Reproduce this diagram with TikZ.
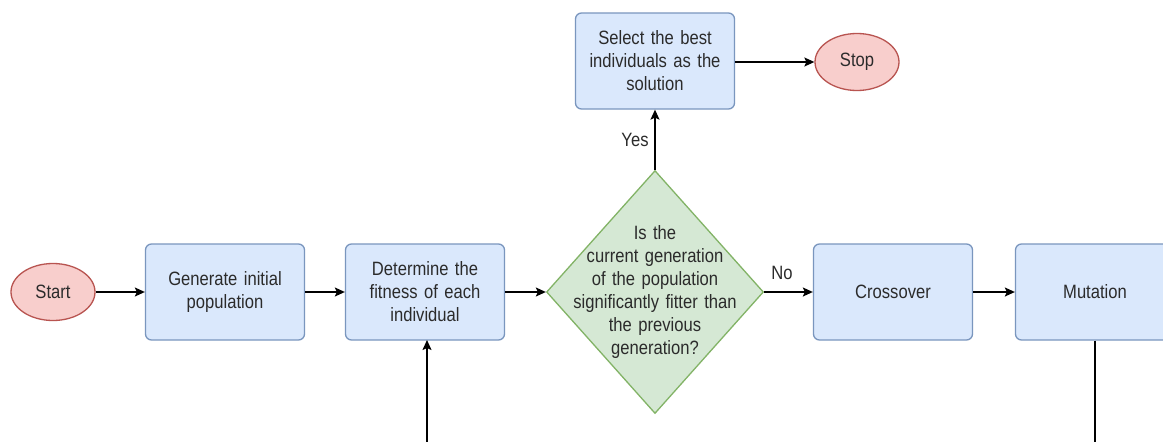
\documentclass[tikz,border=0pt]{standalone}
\usepackage{fontspec}
\setmainfont{Liberation Sans}[FakeStretch=0.86]
\usetikzlibrary{shapes.geometric,arrows.meta}
\definecolor{boxfill}{HTML}{DAE8FC}
\definecolor{boxdraw}{HTML}{7A96BE}
\definecolor{ovfill}{HTML}{F8CECC}
\definecolor{ovdraw}{HTML}{B85450}
\definecolor{dfill}{HTML}{D5E8D4}
\definecolor{ddraw}{HTML}{82B366}
\definecolor{txtc}{HTML}{2B2B2B}
\tikzset{
  procbox/.style={draw=boxdraw, fill=boxfill, line width=1.3pt, rounded corners=6pt,
    minimum width=159pt, minimum height=96pt, text width=150pt, align=center, inner sep=0pt, text=txtc},
  term/.style={ellipse, draw=ovdraw, fill=ovfill, line width=1.3pt, minimum width=84pt,
    minimum height=57pt, inner sep=0pt, text=txtc},
  decis/.style={diamond, draw=ddraw, fill=dfill, line width=1.3pt, minimum width=217pt,
    minimum height=243pt, inner sep=0pt},
  dtext/.style={text width=200pt, align=center, text=txtc},
  lbl/.style={text=txtc, inner sep=0pt},
  conn/.style={draw=black, line width=1.4pt, -{Stealth[length=10pt,width=9pt,inset=2pt]}}
}
\begin{document}
\begin{tikzpicture}[x=1pt,y=-1pt, font=\fontsize{19.3}{23}\selectfont]
\useasboundingbox (0,0) rectangle (1163,442);
\fill[white] (0,0) rectangle (1163,442);
\clip (0,0) rectangle (1163,442);

\node[term] (start) at (53,292) {Start};
\node[procbox] (gen) at (225,292) {Generate initial\\population};
\node[procbox] (det) at (425,292) {Determine the\\fitness of each\\individual};
\node[decis] (q) at (655,292) {};
\node[dtext] (qt) at (q.center) {Is the\\current generation\\of the population\\significantly fitter than\\the previous\\generation?};
\node[procbox] (cross) at (893,292) {Crossover};
\node[procbox] (mut) at (1095,292) {Mutation};
\node[procbox] (sel) at (655,61) {Select the best\\individuals as the\\solution};
\node[term] (stop) at (857,62) {Stop};

\node[lbl] (yes) at (635,140) {Yes};
\node[lbl] (no) at (782,273) {No};

\coordinate (c1) at (1095,470);
\coordinate (c2) at (427,470);
\coordinate (c3) at (427,340);

\draw[conn] (start) -- (gen);
\draw[conn] (gen) -- (det);
\draw[conn] (det) -- (q.west);
\draw[conn] (q.east) -- (cross);
\draw[conn] (cross) -- (mut);
\draw[conn] (q.north) -- (sel.south);
\draw[conn] (sel.east |- stop.west) -- (stop.west);
\draw[conn] (mut.south) -- (c1) -- (c2) -- (c3);
\end{tikzpicture}
\end{document}
